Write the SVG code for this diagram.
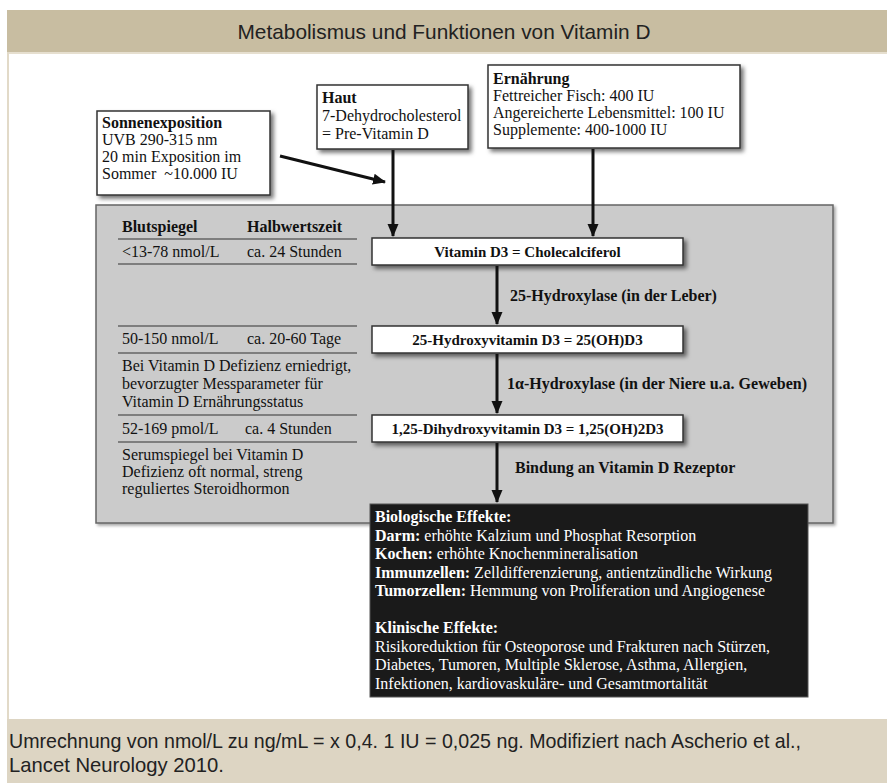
<svg xmlns="http://www.w3.org/2000/svg" width="887" height="783" viewBox="0 0 887 783">
<style>
.t{font-family:"Liberation Serif","Times New Roman",serif;font-size:16px;fill:#111}
.bx{font-size:15px}
.b{font-weight:bold}
.w{fill:#fff}
.box{fill:#fff;stroke:#333;stroke-width:1.5}
.tl{stroke:#333;stroke-width:1.2}
.ar{stroke:#111;stroke-width:3;fill:none}
.cap{font-family:"Liberation Sans",Arial,sans-serif;fill:#222}
</style>
<defs>
<filter id="sh" x="-10%" y="-20%" width="130%" height="160%"><feDropShadow dx="3" dy="3" stdDeviation="2" flood-color="#000" flood-opacity="0.55"/></filter>
<filter id="sh2" x="-5%" y="-5%" width="110%" height="110%"><feDropShadow dx="2" dy="2" stdDeviation="1.5" flood-color="#000" flood-opacity="0.35"/></filter>
<marker id="ah" markerUnits="userSpaceOnUse" markerWidth="14" markerHeight="14" refX="12" refY="7" orient="auto"><path d="M0,1.5 L13,7 L0,12.5 Z" fill="#111"/></marker>
</defs>
<rect x="0" y="0" width="887" height="783" fill="#fff"/>
<!-- frame -->
<rect x="7" y="10" width="880" height="42" fill="#c8bda1"/>
<rect x="7" y="52" width="880" height="2" fill="#e6dfcf"/>
<rect x="7" y="52" width="2" height="668" fill="#e2dac8"/>
<text class="cap" x="444" y="39" text-anchor="middle" font-size="21" textLength="413" lengthAdjust="spacingAndGlyphs">Metabolismus und Funktionen von Vitamin D</text>
<rect x="7" y="719" width="880" height="64" fill="#ddd5c3"/>
<text class="cap" x="9" y="748" font-size="21" textLength="792" lengthAdjust="spacingAndGlyphs" fill="#2a2a2a">Umrechnung von nmol/L zu ng/mL = x 0,4. 1 IU = 0,025 ng. Modifiziert nach Ascherio et al.,</text>
<text class="cap" x="9" y="772" font-size="21" textLength="215" lengthAdjust="spacingAndGlyphs" fill="#2a2a2a">Lancet Neurology 2010.</text>

<!-- gray panel -->
<g id="panel">
<rect x="96" y="205" width="737" height="318" fill="#cbcbcb" stroke="#666" stroke-width="1.5" filter="url(#sh2)"/>
</g>

<g id="table">
<text class="t b" x="122" y="232">Blutspiegel</text>
<text class="t b" x="247" y="232">Halbwertszeit</text>
<line class="tl" x1="118" y1="239" x2="357" y2="239"/>
<text class="t" x="122" y="257">&lt;13-78 nmol/L</text>
<text class="t" x="247" y="257">ca. 24 Stunden</text>
<line class="tl" x1="118" y1="264" x2="357" y2="264"/>
<line class="tl" x1="118" y1="326" x2="357" y2="326"/>
<text class="t" x="122" y="344">50-150 nmol/L</text>
<text class="t" x="247" y="344">ca. 20-60 Tage</text>
<line class="tl" x1="118" y1="353" x2="357" y2="353"/>
<text class="t" x="122" y="371">Bei Vitamin D Defizienz erniedrigt,</text>
<text class="t" x="122" y="389">bevorzugter Messparameter für</text>
<text class="t" x="122" y="407">Vitamin D Ernährungsstatus</text>
<line class="tl" x1="118" y1="415" x2="357" y2="415"/>
<text class="t" x="122" y="434">52-169 pmol/L</text>
<text class="t" x="245" y="434">ca. 4 Stunden</text>
<line class="tl" x1="118" y1="442" x2="357" y2="442"/>
<text class="t" x="122" y="460">Serumspiegel bei Vitamin D</text>
<text class="t" x="122" y="477">Defizienz oft normal, streng</text>
<text class="t" x="122" y="494">reguliertes Steroidhormon</text>
</g>

<g id="sonne">
<rect class="box" x="97" y="111" width="173" height="84" filter="url(#sh)"/>
<text class="t b" x="102" y="128">Sonnenexposition</text>
<text class="t" x="102" y="145">UVB 290-315 nm</text>
<text class="t" x="102" y="162">20 min Exposition im</text>
<text class="t" x="102" y="179" xml:space="preserve">Sommer  ~10.000 IU</text>
</g>

<g id="haut">
<rect class="box" x="317" y="85" width="151" height="64" filter="url(#sh)"/>
<text class="t b" x="322" y="103">Haut</text>
<text class="t" x="322" y="121">7-Dehydrocholesterol</text>
<text class="t" x="322" y="139">= Pre-Vitamin D</text>
</g>

<g id="ernaehrung">
<rect class="box" x="488" y="65" width="252" height="83" filter="url(#sh)"/>
<text class="t b" x="493" y="84">Ernährung</text>
<text class="t" x="493" y="101">Fettreicher Fisch: 400 IU</text>
<text class="t" x="493" y="118">Angereicherte Lebensmittel: 100 IU</text>
<text class="t" x="493" y="135">Supplemente: 400-1000 IU</text>
</g>

<g id="vd3">
<rect class="box" x="372" y="238" width="311" height="27" filter="url(#sh)"/>
<text class="t b bx" x="527.5" y="257" text-anchor="middle">Vitamin D3 = Cholecalciferol</text>
</g>
<g id="ohd3">
<rect class="box" x="372" y="326" width="311" height="27" filter="url(#sh)"/>
<text class="t b bx" x="527.5" y="345" text-anchor="middle">25-Hydroxyvitamin D3 = 25(OH)D3</text>
</g>
<g id="dihyd">
<rect class="box" x="372" y="415" width="311" height="27" filter="url(#sh)"/>
<text class="t b bx" x="527.5" y="434" text-anchor="middle">1,25-Dihydroxyvitamin D3 = 1,25(OH)2D3</text>
</g>

<g id="effekte">
<rect x="370" y="504" width="438" height="193" fill="#1a1a1a" stroke="#555" stroke-width="1"/>
<text class="t w b" x="375" y="522">Biologische Effekte:</text>
<text class="t w" x="375" y="540.5"><tspan class="b">Darm:</tspan> erhöhte Kalzium und Phosphat Resorption</text>
<text class="t w" x="375" y="559"><tspan class="b">Kochen:</tspan> erhöhte Knochenmineralisation</text>
<text class="t w" x="375" y="577.5"><tspan class="b">Immunzellen:</tspan> Zelldifferenzierung, antientzündliche Wirkung</text>
<text class="t w" x="375" y="596"><tspan class="b">Tumorzellen:</tspan> Hemmung von Proliferation und Angiogenese</text>
<text class="t w b" x="375" y="633">Klinische Effekte:</text>
<text class="t w" x="375" y="651.5">Risikoreduktion für Osteoporose und Frakturen nach Stürzen,</text>
<text class="t w" x="375" y="670">Diabetes, Tumoren, Multiple Sklerose, Asthma, Allergien,</text>
<text class="t w" x="375" y="688.5">Infektionen, kardiovaskuläre- und Gesamtmortalität</text>
</g>

<g id="connectors">
<line class="ar" x1="280" y1="156" x2="385" y2="182" marker-end="url(#ah)"/>
<line class="ar" x1="393" y1="150" x2="393" y2="236" marker-end="url(#ah)"/>
<line class="ar" x1="593" y1="149" x2="593" y2="236" marker-end="url(#ah)"/>
<line class="ar" x1="497" y1="266" x2="497" y2="324" marker-end="url(#ah)"/>
<line class="ar" x1="497" y1="354" x2="497" y2="413" marker-end="url(#ah)"/>
<line class="ar" x1="497" y1="443" x2="497" y2="502" marker-end="url(#ah)"/>
<text class="t b" x="510" y="301">25-Hydroxylase (in der Leber)</text>
<text class="t b" x="507" y="389">1α-Hydroxylase (in der Niere u.a. Geweben)</text>
<text class="t b" x="515" y="473">Bindung an Vitamin D Rezeptor</text>
</g>
</svg>
